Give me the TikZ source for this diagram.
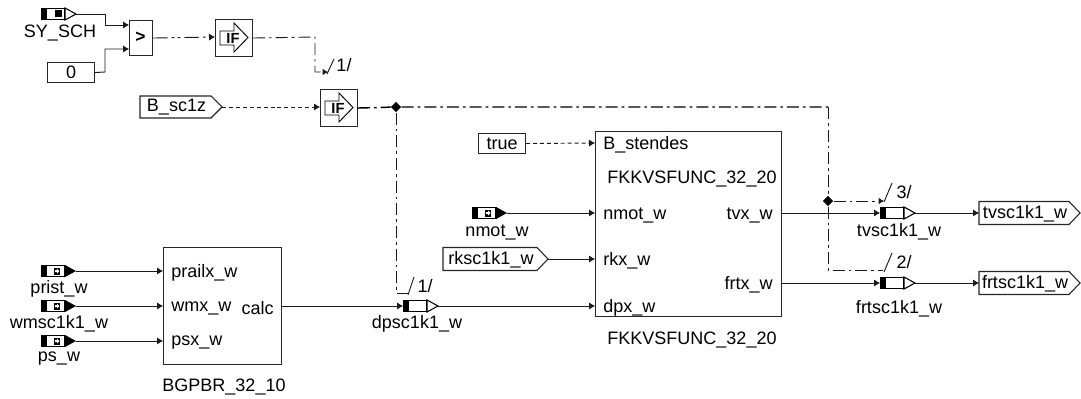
\documentclass[tikz,border=0pt]{standalone}
\usepackage{fontspec}
\setmainfont{Liberation Sans}
\usetikzlibrary{arrows.meta,calc,shapes.geometric}
\tikzset{
  x=0.75pt,y=-0.75pt,
  wire/.style={line width=0.7pt,draw=black!90,-{Latex[length=4.5pt,width=5.5pt]}},
  wireplain/.style={line width=0.7pt,draw=black!90},
  dots/.style={wire,dash pattern=on 3pt off 2.2pt},
  dashdot/.style={line width=0.7pt,draw=black!90,dash pattern=on 9pt off 3pt on 2pt off 3pt},
  dashdotarrow/.style={dashdot,-{Latex[length=4pt,width=5pt]}},
  block/.style={draw=black!85,line width=0.8pt,fill=white,minimum width=0,minimum height=0,inner sep=0pt,anchor=north west},
  txt/.style={inner sep=0pt,font=\fontsize{13.5pt}{14pt}\selectfont},
  junct/.style={diamond,fill=black,inner sep=0pt,minimum size=0pt},
}
\newcommand{\pxbox}[6]{\node[block,minimum width=#4*0.75pt,minimum height=#5*0.75pt,txt] (#1) at (#2,#3) {#6};}
\newcommand{\inpinA}[3]{%
  \fill[black] (#2,#3-6) rectangle (#2+6,#3+6);
  \draw[line width=0.8pt,fill=white] (#2+5,#3-5.5) rectangle (#2+24,#3+5.5);
  \fill[black] (#2+24,#3-6) -- (#2+35,#3) -- (#2+24,#3+6) -- cycle;
  \fill[black] (#2+13,#3-3.5) rectangle (#2+19,#3+3.5);
  \fill[white] (#2+14,#3-1) -- (#2+16,#3-1) -- (#2+16,#3-2.5) -- (#2+18.5,#3) -- (#2+16,#3+2.5) -- (#2+16,#3+1) -- (#2+14,#3+1) -- cycle;
  \coordinate (#1) at (#2+35,#3);}
\newcommand{\inpinB}[3]{%
  \fill[black] (#2,#3-6) rectangle (#2+6,#3+6);
  \draw[line width=0.8pt,fill=white] (#2+5,#3-5.5) rectangle (#2+24,#3+5.5);
  \draw[line width=0.8pt,fill=white] (#2+24,#3-6) -- (#2+35,#3) -- (#2+24,#3+6) -- cycle;
  \fill[black] (#2+14,#3-3.5) rectangle (#2+21,#3+3.5);
  \coordinate (#1) at (#2+35,#3);}
\newcommand{\thru}[3]{%
  \coordinate (#1in) at (#2,#3);
  \fill[black] (#2,#3-6) rectangle (#2+6,#3+6);
  \draw[line width=0.8pt,fill=white] (#2+5,#3-5.5) rectangle (#2+24,#3+5.5);
  \draw[line width=0.8pt,fill=white] (#2+24,#3-6) -- (#2+35,#3) -- (#2+24,#3+6) -- cycle;
  \coordinate (#1out) at (#2+35,#3);}
\newcommand{\tagbox}[6]{%
  \draw[line width=0.8pt,draw=black!85,fill=white] (#2,#4-#5) -- (#3-11,#4-#5) -- (#3,#4) -- (#3-11,#4+#5) -- (#2,#4+#5) -- cycle;
  \node[txt,anchor=center] (#1) at ({(#2+#3-9)/2},#4+0.5) {#6};
  \coordinate (#1tip) at (#3,#4);
  \coordinate (#1left) at (#2,#4);}
\newcommand{\ifblock}[3]{%
  \node[block,minimum width=27.75pt,minimum height=27.75pt] (#1) at (#2,#3) {};
  \draw[line width=0.7pt,fill=white] (#2+5,#3+12) -- (#2+19,#3+12) -- (#2+19,#3+4) -- (#2+33,#3+18.5) -- (#2+19,#3+33) -- (#2+19,#3+26) -- (#2+5,#3+26) -- cycle;
  \node[txt,font=\bfseries\fontsize{11pt}{12pt}\selectfont] at (#2+18,#3+19) {IF};}
\begin{document}
\begin{tikzpicture}
\useasboundingbox (0,0) rectangle (1081,399);
\inpinB{sy}{41}{14}
\node[txt] (lsy) at (60,33) {SY\_SCH};
\pxbox{zero}{47}{62}{47}{20}{0}
\node[block,minimum width=17.25pt,minimum height=26.25pt] (cmp) at (129,20) {};
\node[txt,font=\bfseries\fontsize{13pt}{14pt}\selectfont] (cmpt) at (140.5,37.5) {>};
\coordinate (cmpa) at (129,25);
\coordinate (cmpb) at (129,49);
\draw[wire] (sy) -- (105,14) -- (105,25) -- (cmpa);
\draw[wire] (zero.east) -- (105,72) -- (105,49) -- (cmpb);
\ifblock{ifa}{215}{19}
\coordinate (ifaw) at (215,37);
\draw[wire,dash pattern=on 11pt off 3pt on 2pt off 2.5pt on 2pt off 3pt] (cmp.east) -- (ifaw);
\ifblock{ifb}{320}{89}
\coordinate (ifbw) at (320,107);
\tagbox{bsc}{140}{222}{107}{11}{B\_sc1z}
\draw[dots] (bsctip) -- (ifbw);
\coordinate (s1) at (328,72);
\draw[dashdotarrow] (ifa.east) -- (315,37) -- (315,72) -- (s1);
\draw[wireplain] (327,74) -- (334,59);
\node[txt] (n1) at (344,65) {1/};
\node[junct,minimum size=8pt] (ja) at (396,107) {};
\node[junct,minimum size=8pt] (jb) at (828,201) {};
\draw[line width=1.1pt,dash pattern=on 9pt off 3pt on 2pt off 3pt] (ifb.east) -- (ja) -- (828,107);
\draw[dashdot] (828,107) -- (jb) -- (828,270) -- (883,270);
\draw[dashdotarrow] (jb) -- (884,201);
\draw[dashdot] (ja) -- (396,293) -- (408,293);
\node[block,minimum width=88.5pt,minimum height=87.75pt] (bg) at (163,247) {};
\inpinA{pa}{41}{271}
\inpinA{pb}{41}{306}
\inpinA{pc}{41}{341}
\node[txt] (lpa) at (59,289) {prist\_w};
\node[txt] (lpb) at (59,324) {wmsc1k1\_w};
\node[txt] (lpc) at (59,359) {ps\_w};
\coordinate (bga) at (163,271);
\coordinate (bgb) at (163,306);
\coordinate (bgc) at (163,341);
\coordinate (bgo) at (281,306);
\draw[wire] (pa) -- (bga);
\draw[wire] (pb) -- (bgb);
\draw[wire] (pc) -- (bgc);
\node[txt,anchor=west] (ta) at (171,273) {prailx\_w};
\node[txt,anchor=west] (tb) at (171,308) {wmx\_w};
\node[txt,anchor=east] (tc) at (274,308) {calc};
\node[txt,anchor=west] (td) at (171,343) {psx\_w};
\node[txt] (lbg) at (224,387) {BGPBR\_32\_10};
\thru{dp}{403}{306}
\draw[wire] (bgo) -- (dpin);
\node[txt] (ldp) at (417,324) {dpsc1k1\_w};
\draw[wireplain] (408,295) -- (414,277);
\node[txt] (n2) at (425,286) {1/};
\node[block,minimum width=139.5pt,minimum height=139pt] (fk) at (595,131) {};
\pxbox{tr}{478}{133}{47}{20}{true}
\coordinate (fka) at (595,143);
\coordinate (fkb) at (595,213);
\coordinate (fkc) at (595,259);
\coordinate (fkd) at (595,306);
\draw[dots] (tr.east) -- (fka);
\inpinA{nm}{472}{213}
\node[txt] (lnm) at (497,232) {nmot\_w};
\draw[wire] (nm) -- (fkb);
\tagbox{rk}{443}{548}{259}{11.5}{rksc1k1\_w}
\draw[wire] (rktip) -- (fkc);
\draw[wire] (dpout) -- (fkd);
\node[txt,anchor=west] (f1) at (603,145) {B\_stendes};
\node[txt] (f2) at (692,179) {FKKVSFUNC\_32\_20};
\node[txt,anchor=west] (f3) at (603,215) {nmot\_w};
\node[txt,anchor=west] (f4) at (603,261) {rkx\_w};
\node[txt,anchor=west] (f5) at (603,308) {dpx\_w};
\node[txt,anchor=east] (f6) at (773,215) {tvx\_w};
\node[txt,anchor=east] (f7) at (773,285) {frtx\_w};
\node[txt] (lfk) at (692,340) {FKKVSFUNC\_32\_20};
\coordinate (fko) at (781,213);
\coordinate (fkp) at (781,283);
\thru{tv}{880}{213}
\thru{fr}{880}{283}
\draw[wire] (fko) -- (tvin);
\draw[wire] (fkp) -- (frin);
\node[txt] (ltv) at (899,232) {tvsc1k1\_w};
\node[txt] (lfr) at (899,309) {frtsc1k1\_w};
\tagbox{otv}{979}{1080}{213}{11.5}{tvsc1k1\_w}
\tagbox{ofr}{979}{1080}{283}{11.5}{frtsc1k1\_w}
\draw[wire] (tvout) -- (otvleft);
\draw[wire] (frout) -- (ofrleft);
\draw[wireplain] (884,202) -- (892,183);
\draw[wireplain] (884,272) -- (892,253);
\node[txt] (n3) at (904,192) {3/};
\node[txt] (n4) at (904,262) {2/};
\end{tikzpicture}
\end{document}
